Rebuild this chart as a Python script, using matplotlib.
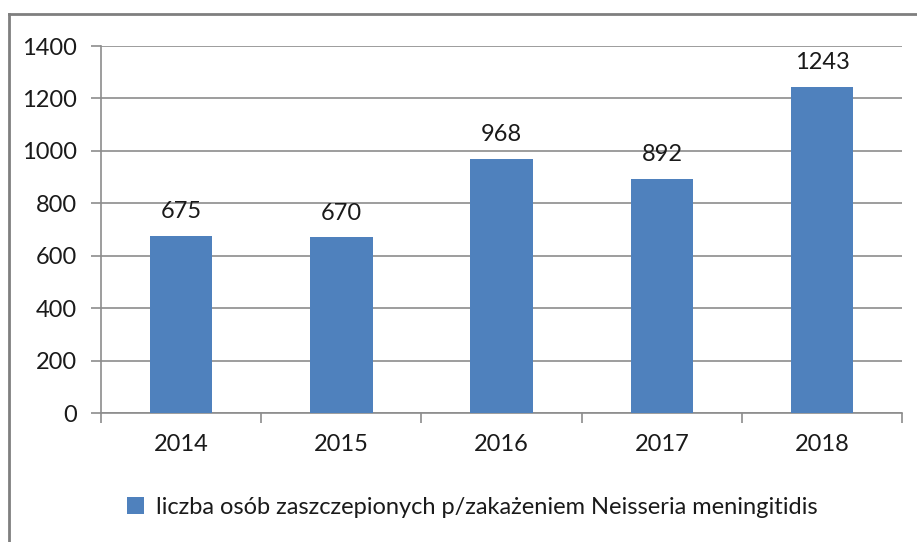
import numpy as np
import matplotlib
matplotlib.use("Agg")
import matplotlib.pyplot as plt
from matplotlib.lines import Line2D

years = ["2014", "2015", "2016", "2017", "2018"]
counts = [675, 670, 968, 892, 1243]
series_label = "liczba osób zaszczepionych p/zakażeniem Neisseria meningitidis"

plt.rcParams['font.family'] = ['Lato', 'DejaVu Sans']
text_color = '#1a1a1a'
grid_color = '#8c8c8c'
bar_color = '#4f81bd'
fs = 17

fig = plt.figure(figsize=(9.17, 5.42), dpi=100)
ax = fig.add_axes([0.110, 0.238, 0.874, 0.677])

x = np.arange(len(years))
bars = ax.bar(x, counts, width=0.39, color=bar_color, zorder=3, label=series_label)

for xi, v in zip(x, counts):
    ax.annotate(str(v), (xi, v), xytext=(0, 10), textcoords='offset points',
                ha='center', va='bottom', fontsize=fs, color=text_color)

ax.set_xlim(-0.5, len(years) - 0.5)
ax.set_ylim(0, 1400)
ax.set_yticks(np.arange(0, 1401, 200))
ax.yaxis.grid(True, color=grid_color, linewidth=1.2, zorder=0)
ax.set_xticks(x)
ax.set_xticklabels(years)
ax.set_xticks(np.arange(-0.5, len(years), 1.0), minor=True)
ax.tick_params(axis='x', which='major', length=0, pad=15, labelsize=fs, labelcolor=text_color)
ax.tick_params(axis='x', which='minor', length=7, width=1.2, color=grid_color, direction='out')
ax.tick_params(axis='y', length=7, width=1.2, color=grid_color, pad=10, labelsize=fs, labelcolor=text_color)

for s in ['top', 'right']:
    ax.spines[s].set_visible(False)
for s in ['left', 'bottom']:
    ax.spines[s].set_color(grid_color)
    ax.spines[s].set_linewidth(1.2)

fig.legend(handles=[bars], labels=[series_label], loc='center', bbox_to_anchor=(0.515, 0.064),
           frameon=False, fontsize=fs, handlelength=0.7, handleheight=0.7, handletextpad=0.5,
           labelcolor=text_color)

# outer frame (cut off at right and bottom)
fig.add_artist(Line2D([9 / 917, 1.0], [1 - 14 / 542, 1 - 14 / 542], color='#7f7f7f', linewidth=2))
fig.add_artist(Line2D([9 / 917, 9 / 917], [0, 1 - 14 / 542], color='#7f7f7f', linewidth=2))

fig.savefig("out.png", dpi=100)
